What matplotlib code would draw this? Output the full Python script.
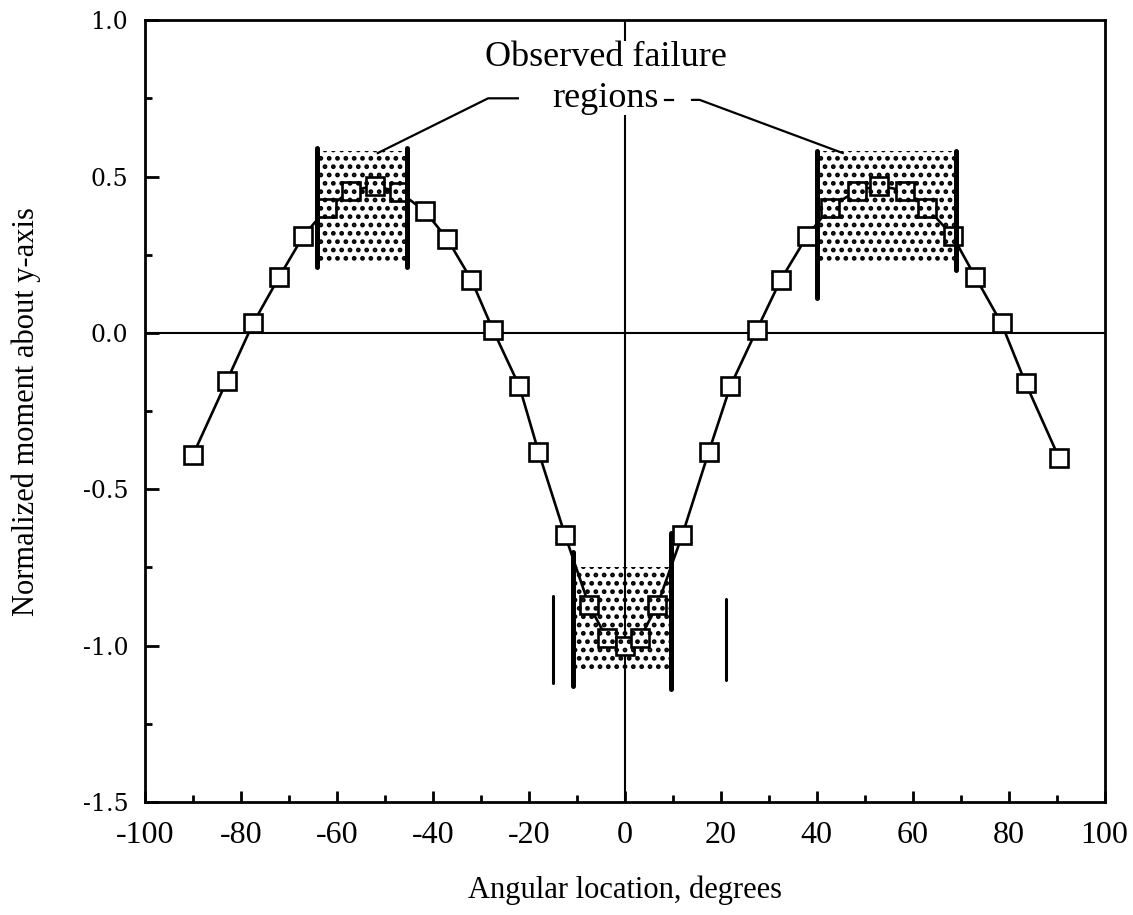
import matplotlib
matplotlib.use('Agg')
import matplotlib.pyplot as plt
from matplotlib.ticker import MultipleLocator

# angular location (deg) and normalized moment
angles = [-90, -83, -77.5, -72, -67, -62, -57, -52, -47, -41.7, -37, -32, -27.5,
          -22, -18, -12.5, -7.5, -3.8, 0, 3.2, 6.8, 12, 17.5, 22, 27.5, 32.5,
          38, 42.7, 48.3, 53, 58.3, 63, 68.3, 73, 78.5, 83.5, 90.5]
moment = [-0.39, -0.155, 0.03, 0.18, 0.31, 0.40, 0.455, 0.47, 0.45, 0.39, 0.30,
          0.17, 0.01, -0.17, -0.38, -0.645, -0.87, -0.975, -1.0, -0.975, -0.87,
          -0.645, -0.38, -0.17, 0.01, 0.17, 0.31, 0.40, 0.455, 0.47, 0.455, 0.40,
          0.31, 0.18, 0.03, -0.16, -0.40]

# observed failure regions: (x0, x1, y0, y1)
regions = [(-64.2, -45.4, 0.22, 0.58), (40.0, 69.0, 0.22, 0.58), (-10.4, 9.4, -1.085, -0.75)]
# bold bars at region edges: (x, y0, y1)
edge_bars = [(-64.2, 0.21, 0.59), (-45.4, 0.21, 0.59), (40.0, 0.11, 0.58), (69.0, 0.20, 0.58),
             (-10.8, -1.13, -0.70), (9.6, -1.14, -0.64)]
thin_bars = [(-15.0, -1.12, -0.84), (21.0, -1.11, -0.85)]
ytick_vals = [-1.5, -1.0, -0.5, 0.0, 0.5, 1.0]

plt.rcParams['hatch.linewidth'] = 2.2
plt.rcParams['font.family'] = 'Liberation Serif'
plt.rcParams['axes.unicode_minus'] = False

fig = plt.figure(figsize=(11.33, 9.15), dpi=100)
ax = fig.add_axes([0.128, 0.1235, 0.847, 0.8545])

ax.axhline(0, color='black', lw=1.5, zorder=1)
ax.axvline(0, color='black', lw=1.5, zorder=1)

ax.plot(angles, moment, color='black', lw=1.9, marker='s', markersize=12.5,
        markerfacecolor='white', markeredgecolor='black', markeredgewidth=1.9, zorder=3)

for x0, x1, y0, y1 in regions:
    ax.fill_between([x0, x1], y0, y1, facecolor='none', edgecolor='black',
                    hatch='..', linewidth=0, zorder=4)
for x, y0, y1 in edge_bars:
    ax.plot([x, x], [y0, y1], color='black', lw=3.6, solid_capstyle='round', zorder=5)
for x, y0, y1 in thin_bars:
    ax.plot([x, x], [y0, y1], color='black', lw=2.2, solid_capstyle='round', zorder=5)

# annotation with leader lines
ax.text(-4, 0.815, 'Observed failure\nregions', ha='center', va='center',
        fontsize=26, linespacing=1.3, zorder=6,
        bbox=dict(facecolor='white', edgecolor='none', pad=0.5))
ax.plot([-22.3, -28.5, -51.5], [0.75, 0.75, 0.575], color='black', lw=1.6, zorder=6)
ax.plot([8.3, 10.0], [0.745, 0.745], color='black', lw=1.6, zorder=6)
ax.plot([14.0, 15.6, 45.4], [0.745, 0.745, 0.575], color='black', lw=1.6, zorder=6)

ax.set_xlim(-100, 100)
ax.set_ylim(-1.5, 1.0)
ax.xaxis.set_major_locator(MultipleLocator(20))
ax.xaxis.set_minor_locator(MultipleLocator(10))
ax.yaxis.set_minor_locator(MultipleLocator(0.25))
ax.set_yticks(ytick_vals)
ax.set_yticklabels(['%.1f' % v for v in ytick_vals], fontfamily='DejaVu Serif', fontsize=17)
ax.tick_params(which='both', direction='in', width=2)
ax.tick_params(axis='x', which='major', length=8, labelsize=23, pad=14)
ax.tick_params(axis='x', which='minor', length=5)
ax.tick_params(axis='y', which='major', length=10, pad=12)
ax.tick_params(axis='y', which='minor', length=5)
for s in ax.spines.values():
    s.set_linewidth(2)

ax.set_xlabel('Angular location, degrees', fontsize=22, labelpad=18)
ax.set_ylabel('Normalized moment about y-axis', fontsize=22, labelpad=30)

plt.savefig('out.png', dpi=100)
